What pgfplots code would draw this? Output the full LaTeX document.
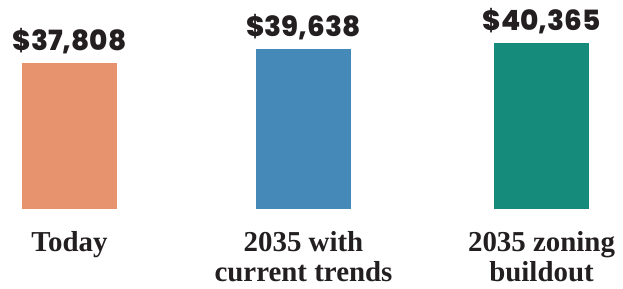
\documentclass[border=0pt]{standalone}
\usepackage{pgfplots}
\pgfplotsset{compat=1.18}
\usepackage{pgfplotstable}
\usepackage{fontspec}
\newfontfamily\valfont{Poppins ExtraBold}
\newfontfamily\catfont{Liberation Serif}
\definecolor{txt}{RGB}{35,31,32}
\definecolor{cA}{RGB}{230,147,110}
\definecolor{cB}{RGB}{69,137,184}
\definecolor{cC}{RGB}{21,139,123}
\pgfplotstableread{
x y
69.5 37808
}\tblA
\pgfplotstableread{
x y
303.5 39638
}\tblB
\pgfplotstableread{
x y
541.5 40365
}\tblC
\begin{document}
\begin{tikzpicture}
\begin{axis}[
  scale only axis,
  width=623bp, height=208.5bp,
  xmin=0, xmax=623,
  ymin=0, ymax=25604,
  clip=false,
  axis line style={draw=none},
  tick style={draw=none},
  ytick=\empty,
  xtick={69.5,303.5,541.5},
  xticklabels={Today,2035 with\\current trends,2035 zoning\\buildout},
  xticklabel style={align=center, font=\catfont\bfseries\fontsize{29}{31}\selectfont, text=txt, anchor=north, inner sep=0pt, text depth=0pt, yshift=-18bp},
  ybar,
  bar width=95bp,
  point meta=explicit,
  nodes near coords={\$\pgfmathprintnumber[fixed, precision=0, 1000 sep={,}, assume math mode=true]{\pgfplotspointmeta}},
  every node near coord/.append style={font=\valfont\fontsize{28}{28}\selectfont, text=txt, anchor=base, inner sep=0pt, text height=20bp, text depth=0pt, yshift=12.5bp},
]
\coordinate (bl) at (axis cs:0,-9885);
\coordinate (tr) at (axis cs:623,25604);
\addplot[fill=cA, draw=none, bar shift=0pt] table[x=x, y expr=\thisrow{y}-20000, meta=y] {\tblA};
\addplot[fill=cB, draw=none, bar shift=0pt] table[x=x, y expr=\thisrow{y}-20000, meta=y] {\tblB};
\addplot[fill=cC, draw=none, bar shift=0pt] table[x=x, y expr=\thisrow{y}-20000, meta=y] {\tblC};
\end{axis}
\pgfresetboundingbox
\path[use as bounding box] (bl) rectangle (tr);
\end{tikzpicture}
\end{document}
